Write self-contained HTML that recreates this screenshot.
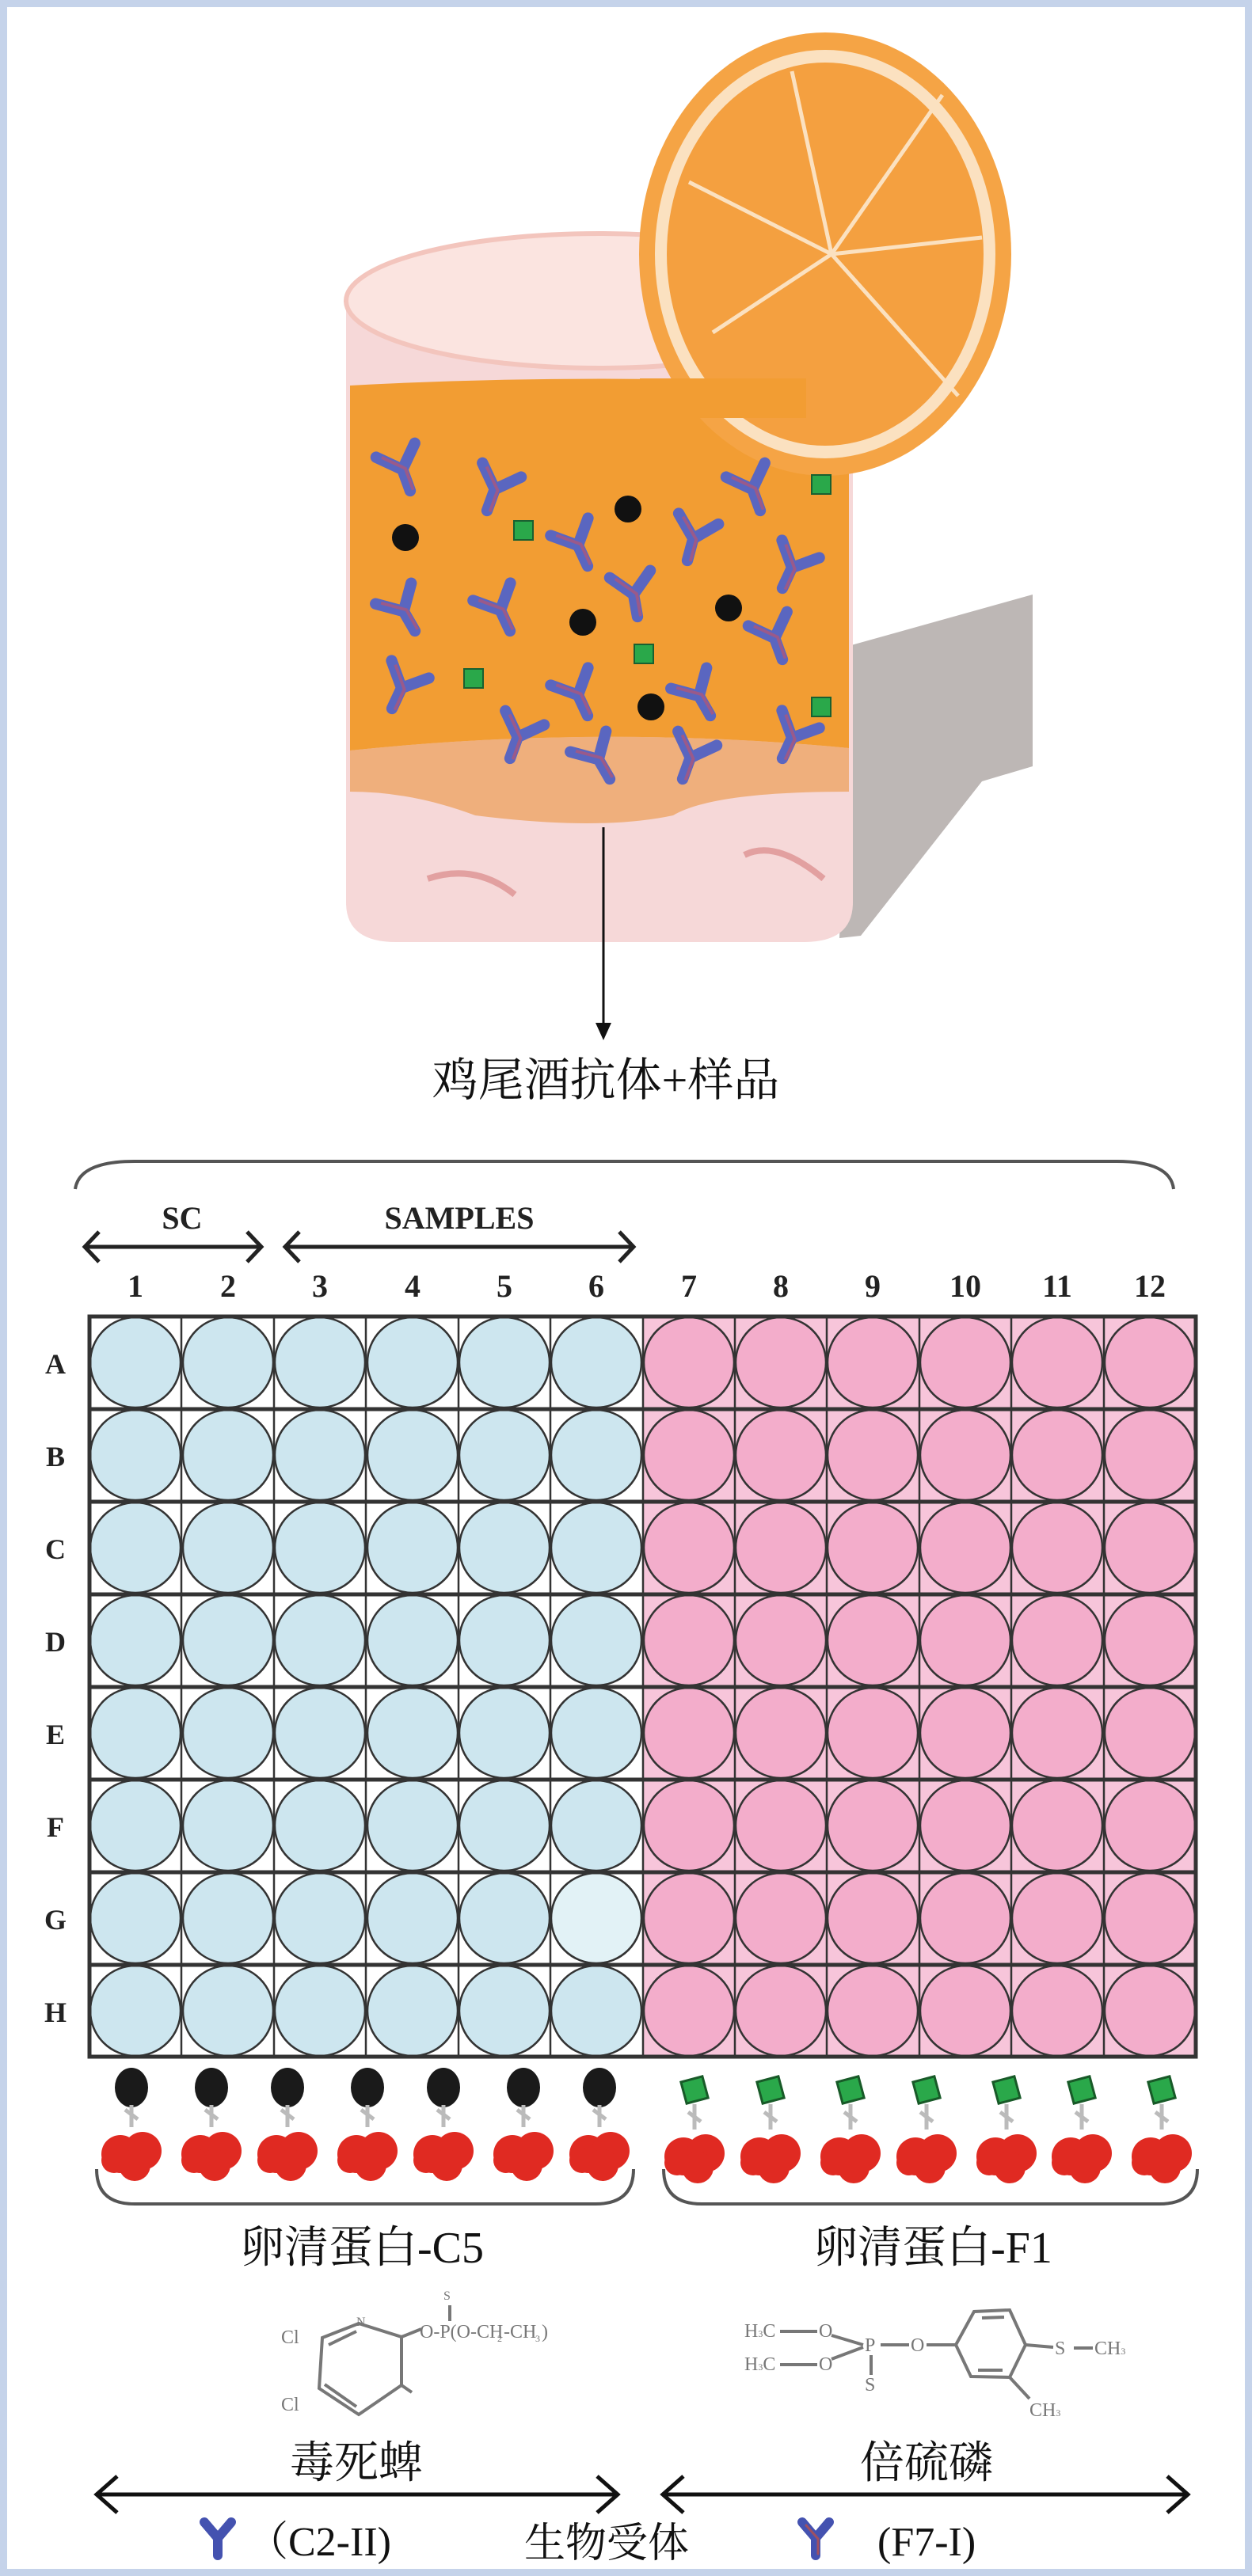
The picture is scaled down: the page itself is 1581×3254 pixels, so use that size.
<!DOCTYPE html>
<html><head><meta charset="utf-8"><style>
html,body{margin:0;padding:0;background:#fff}
svg{display:block}
text{font-family:"Liberation Serif","Noto Serif CJK SC","Noto Sans CJK SC",serif}
</style></head><body>
<svg width="1581" height="3254" viewBox="0 0 1581 3254" xmlns="http://www.w3.org/2000/svg">
<defs>
<g id="ab0">
<path d="M0,0 L0,-22 L-20,-42 M0,-22 L20,-42" stroke="#5a66c0" stroke-width="11" fill="none" stroke-linecap="round"/>
<path d="M3,0 L3,-22 L-15,-40" stroke="#9a5a8a" stroke-width="3" fill="none"/>
</g>
<g id="ab"><use href="#ab0" transform="scale(1.3)"/></g>
<g id="hb"><ellipse cx="0" cy="0" rx="21" ry="25" fill="#1a1a1a"/>
<path d="M0,22 L0,50 M-8,28 L8,40" stroke="#bbb" stroke-width="5"/>
<circle cx="-14" cy="84" r="24" fill="#e02a22"/><circle cx="14" cy="80" r="24" fill="#e02a22"/><circle cx="4" cy="98" r="20" fill="#e02a22"/><circle cx="-22" cy="92" r="16" fill="#e02a22"/></g>
<g id="hg"><rect x="-14" y="-14" width="28" height="28" fill="#2aa84a" stroke="#185a28" stroke-width="3" transform="rotate(-15)"/>
<path d="M0,18 L0,50 M-8,28 L8,40" stroke="#bbb" stroke-width="5"/>
<circle cx="-14" cy="84" r="24" fill="#e02a22"/><circle cx="14" cy="80" r="24" fill="#e02a22"/><circle cx="4" cy="98" r="20" fill="#e02a22"/><circle cx="-22" cy="92" r="16" fill="#e02a22"/></g>
</defs>
<rect x="4" y="4" width="1573" height="3246" fill="#fff" stroke="#c5d3ea" stroke-width="10"/>

<!-- shadow -->
<path d="M1075,815 L1304,751 L1304,968 L1240,987 L1087,1182 L1060,1185 Z" fill="#bdb7b5"/>
<!-- glass -->
<path d="M437,380 L437,1140 Q437,1190 500,1190 L1015,1190 Q1077,1190 1077,1140 L1077,380 Z" fill="#f6d8d8"/>
<ellipse cx="757" cy="380" rx="320" ry="85" fill="#fbe4e0" stroke="#f3c5bd" stroke-width="6"/>
<path d="M442,487 Q757,470 1072,487 L1072,945 Q757,915 442,948 Z" fill="#f29d33"/>
<path d="M442,948 Q757,915 1072,945 L1072,1000 Q900,1000 850,1030 Q757,1050 600,1030 Q520,1000 442,1000 Z" fill="#eb9440" opacity="0.6"/>
<path d="M540,1110 Q600,1090 650,1130 M940,1080 Q980,1060 1040,1110" stroke="#e2a0a0" stroke-width="8" fill="none"/>
<!-- orange slice -->
<ellipse cx="1042" cy="321" rx="235" ry="280" fill="#f5a445"/>
<ellipse cx="1042" cy="321" rx="215" ry="258" fill="#fbe1c0"/>
<ellipse cx="1042" cy="321" rx="200" ry="242" fill="#f4a040"/>
<g stroke="#fbe1c0" stroke-width="5">
<line x1="1050" y1="321" x2="1000" y2="90"/><line x1="1050" y1="321" x2="1190" y2="120"/><line x1="1050" y1="321" x2="1240" y2="300"/><line x1="1050" y1="321" x2="1210" y2="500"/><line x1="1050" y1="321" x2="900" y2="420"/><line x1="1050" y1="321" x2="870" y2="230"/></g>
<rect x="808" y="478" width="210" height="50" fill="#f29d33"/>

<use href="#ab" transform="translate(518,620) rotate(-20)"/><use href="#ab" transform="translate(615,645) rotate(20)"/>
<use href="#ab" transform="translate(742,715) rotate(-25)"/><use href="#ab" transform="translate(868,708) rotate(15)"/>
<use href="#ab" transform="translate(960,645) rotate(-20)"/><use href="#ab" transform="translate(988,743) rotate(25)"/>
<use href="#ab" transform="translate(805,779) rotate(-10)"/><use href="#ab" transform="translate(524,797) rotate(-30)"/>
<use href="#ab" transform="translate(644,797) rotate(-25)"/><use href="#ab" transform="translate(988,833) rotate(-20)"/>
<use href="#ab" transform="translate(495,895) rotate(25)"/><use href="#ab" transform="translate(742,904) rotate(-25)"/>
<use href="#ab" transform="translate(897,904) rotate(-30)"/><use href="#ab" transform="translate(644,958) rotate(20)"/>
<use href="#ab" transform="translate(770,984) rotate(-30)"/><use href="#ab" transform="translate(862,984) rotate(20)"/>
<use href="#ab" transform="translate(988,958) rotate(25)"/>
<g fill="#111"><circle cx="512" cy="679" r="17"/><circle cx="793" cy="643" r="17"/><circle cx="736" cy="786" r="17"/><circle cx="920" cy="768" r="17"/><circle cx="822" cy="893" r="17"/></g>
<g fill="#2aa84a" stroke="#1a6030" stroke-width="2"><rect x="649" y="658" width="24" height="24"/><rect x="1025" y="600" width="24" height="24"/><rect x="586" y="845" width="24" height="24"/><rect x="801" y="814" width="24" height="24"/><rect x="1025" y="881" width="24" height="24"/></g>

<line x1="762" y1="1045" x2="762" y2="1295" stroke="#111" stroke-width="3"/>
<path d="M752,1292 L772,1292 L762,1314 Z" fill="#111"/>
<text x="765" y="1384" font-size="58" text-anchor="middle" fill="#111">鸡尾酒抗体+样品</text>

<!-- top brace -->
<path d="M95,1502 Q100,1467 170,1467 L1410,1467 Q1478,1467 1482,1502" fill="none" stroke="#555" stroke-width="4"/>
<g font-weight="bold" font-size="40" fill="#222" text-anchor="middle">
<text x="230" y="1552">SC</text><text x="580" y="1552">SAMPLES</text></g>
<g stroke="#222" stroke-width="5" fill="none">
<line x1="107" y1="1575" x2="330" y2="1575"/><path d="M125,1556 L107,1575 L125,1594 M312,1556 L330,1575 L312,1594"/>
<line x1="360" y1="1575" x2="800" y2="1575"/><path d="M378,1556 L360,1575 L378,1594 M782,1556 L800,1575 L782,1594"/></g>
<g font-weight="bold" font-size="40" fill="#222" text-anchor="middle">
<text x="171" y="1638">1</text><text x="288" y="1638">2</text><text x="404" y="1638">3</text><text x="521" y="1638">4</text><text x="637" y="1638">5</text><text x="753" y="1638">6</text><text x="870" y="1638">7</text><text x="986" y="1638">8</text><text x="1102" y="1638">9</text><text x="1219" y="1638">10</text><text x="1335" y="1638">11</text><text x="1452" y="1638">12</text>
</g>
<g font-weight="bold" font-size="36" fill="#222" text-anchor="middle">
<text x="70" y="1735">A</text><text x="70" y="1852">B</text><text x="70" y="1969">C</text><text x="70" y="2086">D</text><text x="70" y="2203">E</text><text x="70" y="2320">F</text><text x="70" y="2437">G</text><text x="70" y="2554">H</text></g>

<rect x="113" y="1663" width="699" height="935" fill="#fff"/>
<rect x="812" y="1663" width="698" height="935" fill="#f7c5da"/>
<g stroke="#333" stroke-width="2.5">
<g fill="#cde6ef">
<g id="r"><ellipse cx="171" cy="1721" rx="57" ry="57"/><ellipse cx="288" cy="1721" rx="57" ry="57"/><ellipse cx="404" cy="1721" rx="57" ry="57"/><ellipse cx="521" cy="1721" rx="57" ry="57"/><ellipse cx="637" cy="1721" rx="57" ry="57"/><ellipse cx="753" cy="1721" rx="57" ry="57"/></g>
<use href="#r" y="117"/><use href="#r" y="234"/><use href="#r" y="351"/><use href="#r" y="468"/><use href="#r" y="585"/><use href="#r" y="702"/><use href="#r" y="819"/>
</g>
<ellipse cx="753" cy="2423" rx="57" ry="57" fill="#e2f2f6"/>
<g fill="#f3adcb">
<g id="p"><ellipse cx="870" cy="1721" rx="57" ry="57"/><ellipse cx="986" cy="1721" rx="57" ry="57"/><ellipse cx="1102" cy="1721" rx="57" ry="57"/><ellipse cx="1219" cy="1721" rx="57" ry="57"/><ellipse cx="1335" cy="1721" rx="57" ry="57"/><ellipse cx="1452" cy="1721" rx="57" ry="57"/></g>
<use href="#p" y="117"/><use href="#p" y="234"/><use href="#p" y="351"/><use href="#p" y="468"/><use href="#p" y="585"/><use href="#p" y="702"/><use href="#p" y="819"/>
</g>
</g>
<g stroke="#333" stroke-width="2.5">
<line x1="229" y1="1663" x2="229" y2="2598"/><line x1="346" y1="1663" x2="346" y2="2598"/><line x1="462" y1="1663" x2="462" y2="2598"/><line x1="579" y1="1663" x2="579" y2="2598"/><line x1="695" y1="1663" x2="695" y2="2598"/><line x1="812" y1="1663" x2="812" y2="2598"/><line x1="928" y1="1663" x2="928" y2="2598"/><line x1="1044" y1="1663" x2="1044" y2="2598"/><line x1="1161" y1="1663" x2="1161" y2="2598"/><line x1="1277" y1="1663" x2="1277" y2="2598"/><line x1="1394" y1="1663" x2="1394" y2="2598"/></g>
<g stroke="#333" stroke-width="5">
<line x1="113" y1="1780" x2="1510" y2="1780"/><line x1="113" y1="1897" x2="1510" y2="1897"/><line x1="113" y1="2014" x2="1510" y2="2014"/><line x1="113" y1="2131" x2="1510" y2="2131"/><line x1="113" y1="2248" x2="1510" y2="2248"/><line x1="113" y1="2365" x2="1510" y2="2365"/><line x1="113" y1="2482" x2="1510" y2="2482"/></g>
<rect x="113" y="1663" width="1397" height="935" fill="none" stroke="#333" stroke-width="5"/>

<use href="#hb" x="166" y="2637"/><use href="#hb" x="267" y="2637"/><use href="#hb" x="363" y="2637"/><use href="#hb" x="464" y="2637"/><use href="#hb" x="560" y="2637"/><use href="#hb" x="661" y="2637"/><use href="#hb" x="757" y="2637"/>
<use href="#hg" x="877" y="2640"/><use href="#hg" x="973" y="2640"/><use href="#hg" x="1074" y="2640"/><use href="#hg" x="1170" y="2640"/><use href="#hg" x="1271" y="2640"/><use href="#hg" x="1366" y="2640"/><use href="#hg" x="1467" y="2640"/>

<g fill="none" stroke="#555" stroke-width="4">
<path d="M122,2740 Q122,2784 170,2784 L752,2784 Q800,2784 800,2740"/>
<path d="M838,2740 Q838,2784 886,2784 L1464,2784 Q1512,2784 1512,2740"/></g>
<g font-size="56" fill="#111" text-anchor="middle">
<text x="457" y="2858">卵清蛋白-C5</text><text x="1178" y="2858">卵清蛋白-F1</text>
<text x="450" y="3130">毒死蜱</text><text x="1170" y="3130">倍硫磷</text></g>

<!-- chem left -->
<g stroke="#777" stroke-width="4" fill="none">
<path d="M407,2953 L453,2935 L507,2952 L507,3013 L453,3050 L403,3017 Z"/>
<path d="M415,2962 L450,2945 M410,3012 L450,3040"/>
<line x1="507" y1="2952" x2="532" y2="2942"/><line x1="568" y1="2912" x2="568" y2="2932"/><line x1="507" y1="3013" x2="520" y2="3022"/></g>
<g font-size="24" fill="#777"><text x="355" y="2960">Cl</text><text x="355" y="3045">Cl</text><text x="450" y="2938" font-size="16">N</text><text x="530" y="2953">O-P(O-CH</text><text x="628" y="2958" font-size="12">2</text><text x="636" y="2953">-CH</text><text x="676" y="2958" font-size="12">3</text><text x="684" y="2953">)</text><text x="560" y="2905" font-size="16">S</text></g>
<!-- chem right -->
<g stroke="#777" stroke-width="4" fill="none">
<path d="M1207,2962 L1230,2920 L1275,2918 L1295,2962 L1275,3003 L1226,3002 Z"/>
<path d="M1240,2928 L1268,2927 M1235,2994 L1266,2994"/>
<line x1="985" y1="2945" x2="1032" y2="2945"/><line x1="985" y1="2987" x2="1032" y2="2987"/>
<path d="M1050,2950 L1090,2962 M1050,2980 L1090,2965"/><line x1="1112" y1="2962" x2="1148" y2="2962"/><line x1="1170" y1="2962" x2="1207" y2="2962"/>
<line x1="1100" y1="2975" x2="1100" y2="3000"/><line x1="1295" y1="2962" x2="1330" y2="2965"/><line x1="1356" y1="2966" x2="1380" y2="2966"/><line x1="1275" y1="3003" x2="1300" y2="3030"/></g>
<g font-size="24" fill="#777"><text x="940" y="2952">H<tspan font-size="12">3</tspan>C</text><text x="940" y="2994">H<tspan font-size="12">3</tspan>C</text><text x="1034" y="2952">O</text><text x="1034" y="2994">O</text><text x="1092" y="2970">P</text><text x="1150" y="2970">O</text><text x="1332" y="2974">S</text><text x="1382" y="2974">CH<tspan font-size="12">3</tspan></text><text x="1300" y="3052">CH<tspan font-size="12">3</tspan></text><text x="1092" y="3020">S</text></g>

<g stroke="#111" stroke-width="5" fill="none">
<line x1="122" y1="3151" x2="780" y2="3151"/><path d="M148,3128 L122,3151 L148,3174 M754,3128 L780,3151 L754,3174"/>
<line x1="837" y1="3151" x2="1500" y2="3151"/><path d="M863,3128 L837,3151 L863,3174 M1474,3128 L1500,3151 L1474,3174"/></g>
<g stroke-linecap="round" fill="none">
<path d="M275,3228 L275,3206 L258,3186 M275,3206 L292,3186" stroke="#4452b0" stroke-width="12"/>
<path d="M1030,3228 L1030,3206 L1013,3186 M1030,3206 L1047,3186" stroke="#4452b0" stroke-width="12"/>
<path d="M1033,3226 L1033,3207 L1018,3190" stroke="#a05060" stroke-width="3"/></g>
<g font-size="52" fill="#111"><text x="312" y="3228">（C2-II)</text><text x="662" y="3230">生物受体</text><text x="1108" y="3228">(F7-I)</text></g>
</svg>
</body></html>
